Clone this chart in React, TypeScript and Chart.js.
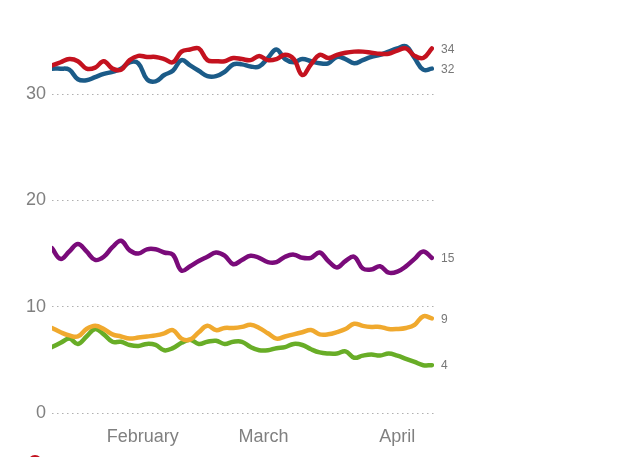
import React, { useEffect, useRef } from "react";
import { Chart, registerables } from "chart.js";

Chart.register(...registerables);

// day index from Jan 11
const days = [0, 2, 4, 6, 8, 10, 12, 14, 16, 18, 20, 22, 24, 26, 28, 30, 32, 34, 36, 38, 40, 42, 44, 46, 48, 50, 52, 54, 56, 58, 60, 62, 64, 66, 68, 70, 72, 74, 76, 78, 80, 82, 84, 86, 88];

const monthTickDays = [21, 49, 80];
const monthLabels = ["February", "March", "April"];
const yTicks = [0, 10, 20, 30];

const redSeries = [32.7, 33.0, 33.3, 33.1, 32.4, 32.5, 33.1, 32.4, 32.3, 33.2, 33.6, 33.5, 33.5, 33.3, 33.0, 34.0, 34.2, 34.3, 33.2, 33.1, 33.1, 33.4, 33.3, 33.2, 33.6, 33.2, 33.3, 33.7, 33.3, 31.8, 32.8, 33.7, 33.4, 33.7, 33.9, 34.0, 34.0, 33.9, 33.8, 33.8, 34.1, 34.3, 33.6, 33.4, 34.3];
const blueSeries = [32.4, 32.4, 32.3, 31.4, 31.3, 31.6, 31.9, 32.1, 32.4, 33.0, 32.9, 31.4, 31.2, 31.8, 32.2, 33.2, 32.7, 32.2, 31.7, 31.7, 32.1, 32.8, 32.8, 32.6, 32.6, 33.4, 34.2, 33.3, 33.0, 33.3, 33.1, 32.9, 32.9, 33.5, 33.3, 32.9, 33.2, 33.5, 33.7, 34.0, 34.3, 34.5, 33.4, 32.3, 32.4];
const purpleSeries = [15.5, 14.5, 15.2, 15.9, 15.2, 14.4, 14.7, 15.6, 16.2, 15.3, 15.0, 15.4, 15.4, 15.1, 14.9, 13.4, 13.8, 14.3, 14.7, 15.1, 14.8, 14.0, 14.4, 14.8, 14.6, 14.2, 14.2, 14.7, 14.9, 14.6, 14.6, 15.1, 14.3, 13.7, 14.3, 14.7, 13.6, 13.5, 13.8, 13.2, 13.3, 13.8, 14.5, 15.2, 14.6];
const orangeSeries = [8.0, 7.6, 7.3, 7.2, 7.9, 8.2, 7.9, 7.4, 7.2, 7.0, 7.1, 7.2, 7.3, 7.5, 7.8, 7.0, 6.9, 7.6, 8.2, 7.8, 8.0, 8.0, 8.1, 8.3, 8.0, 7.5, 7.0, 7.2, 7.4, 7.6, 7.8, 7.4, 7.4, 7.6, 7.9, 8.4, 8.2, 8.1, 8.1, 7.9, 7.9, 8.0, 8.3, 9.1, 8.9];
const greenSeries = [6.2, 6.6, 7.0, 6.5, 7.2, 7.9, 7.4, 6.7, 6.7, 6.4, 6.3, 6.5, 6.4, 5.9, 6.1, 6.6, 6.9, 6.5, 6.7, 6.8, 6.5, 6.7, 6.7, 6.2, 5.9, 5.9, 6.1, 6.2, 6.5, 6.4, 6.0, 5.7, 5.6, 5.6, 5.8, 5.2, 5.4, 5.5, 5.4, 5.6, 5.4, 5.1, 4.8, 4.5, 4.5];

const endLabels = ["34", "32", "15", "9", "4"];

const FONT = "'Liberation Sans', Arial, sans-serif";

const endLabelPlugin = {
  id: "endLabels",
  afterDatasetsDraw(chart: any) {
    const { ctx, chartArea } = chart;
    ctx.save();
    ctx.font = `12px ${FONT}`;
    ctx.fillStyle = "#777777";
    ctx.textAlign = "left";
    ctx.textBaseline = "middle";
    chart.data.datasets.forEach((_ds: any, i: number) => {
      const meta = chart.getDatasetMeta(i);
      const last = meta.data[meta.data.length - 1];
      if (last) ctx.fillText(endLabels[i], chartArea.right + 7, last.y + 1);
    });
    ctx.restore();
  },
};

export default function App() {
  const ref = useRef<HTMLCanvasElement>(null);
  useEffect(() => {
    if (!ref.current) return;
    const mk = (vals: number[]) => days.map((d, i) => ({ x: d, y: vals[i] }));
    const ds = (vals: number[], color: string) => ({
      data: mk(vals),
      borderColor: color,
      backgroundColor: color,
      borderWidth: 4.5,
      borderCapStyle: "round",
      borderJoinStyle: "round",
      pointRadius: 0,
      tension: 0.4,
      fill: false,
    });
    const chart = new Chart(ref.current, {
      type: "line",
      data: {
        datasets: [
          ds(redSeries, "#c4121f"),
          ds(blueSeries, "#1b5b88"),
          ds(purpleSeries, "#7a0b7a"),
          ds(orangeSeries, "#f0a92e"),
          ds(greenSeries, "#68ad27"),
        ],
      },
      options: {
        animation: false,
        responsive: false,
        maintainAspectRatio: false,
        layout: { padding: { top: 41, right: 206, left: 0, bottom: 0 } },
        plugins: { legend: { display: false }, tooltip: { enabled: false } },
        scales: {
          x: {
            type: "linear",
            min: 0,
            max: 88.5,
            grid: { display: false, drawTicks: false },
            border: { display: false },
            afterBuildTicks: (scale: any) => {
              scale.ticks = monthTickDays.map((v) => ({ value: v }));
            },
            afterFit: (scale: any) => {
              scale.height = 44;
            },
            ticks: {
              autoSkip: false,
              maxRotation: 0,
              padding: 13,
              color: "#808080",
              font: { family: FONT, size: 18 },
              callback: (v: any) => monthLabels[monthTickDays.indexOf(Number(v))] ?? "",
            },
          },
          y: {
            min: 0,
            max: 35,
            grid: { color: "#b0b0b0", lineWidth: 1, drawTicks: false },
            border: { display: false, dash: [1.5, 3.5] },
            afterBuildTicks: (scale: any) => {
              scale.ticks = yTicks.map((v) => ({ value: v }));
            },
            afterFit: (scale: any) => {
              scale.width = 52;
            },
            ticks: {
              padding: 6,
              color: "#808080",
              font: { family: FONT, size: 18 },
            },
          },
        },
      },
      plugins: [endLabelPlugin],
    } as any);
    return () => chart.destroy();
  }, []);
  return (
    <div style={{ position: "fixed", left: 0, top: 0, width: 640, height: 457, overflow: "hidden", background: "#fff" }}>
      <canvas ref={ref} width={640} height={457} style={{ width: 640, height: 457, display: "block" }} />
      <div style={{ position: "absolute", left: 28, top: 455, width: 14, height: 14, borderRadius: 7, background: "#c4121f" }} />
    </div>
  );
}
